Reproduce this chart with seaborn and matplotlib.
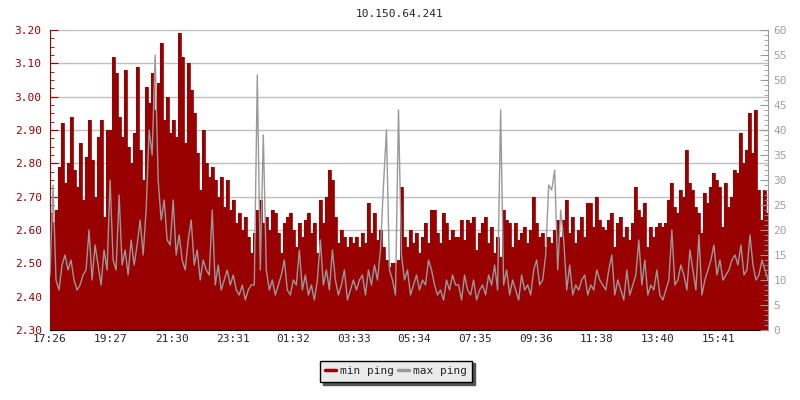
import numpy as np
import pandas as pd
import matplotlib
matplotlib.use("Agg")
import matplotlib.pyplot as plt
import seaborn as sns
from matplotlib.lines import Line2D
from matplotlib.ticker import MultipleLocator, FormatStrFormatter

title = "10.150.64.241"
tick_minutes = [0, 121, 244, 365, 486, 607, 728, 849, 970, 1092, 1214, 1335]
tick_labels = ["17:26", "19:27", "21:30", "23:31", "01:32", "03:33",
               "05:34", "07:35", "09:36", "11:38", "13:40", "15:41"]
sample_step = 6  # minutes between samples

# min ping (ms, left axis)
min_ping = [
    2.65, 2.62, 2.66, 2.79, 2.92, 2.74, 2.80, 2.94, 2.78, 2.73, 2.86, 2.69, 2.82, 2.93, 2.81, 2.70, 2.88,
    2.93, 2.64, 2.90, 2.90, 3.12, 3.07, 2.94, 2.88, 3.08, 2.85, 2.80, 2.89, 3.09, 2.84, 2.75, 3.03, 2.98,
    3.07, 2.96, 3.04, 3.16, 2.93, 3.00, 2.89, 2.93, 2.88, 3.19, 3.12, 2.86, 3.10, 3.02, 2.95, 2.83, 2.72,
    2.90, 2.80, 2.76, 2.79, 2.75, 2.70, 2.76, 2.67, 2.75, 2.66, 2.69, 2.62, 2.65, 2.60, 2.64, 2.58, 2.53,
    2.59, 2.66, 2.69, 2.62, 2.64, 2.60, 2.66, 2.65, 2.59, 2.53, 2.62, 2.64, 2.65, 2.60, 2.55, 2.62, 2.58,
    2.63, 2.65, 2.59, 2.62, 2.53, 2.69, 2.62, 2.70, 2.78, 2.75, 2.64, 2.56, 2.60, 2.58, 2.55, 2.58, 2.56,
    2.58, 2.55, 2.59, 2.56, 2.68, 2.59, 2.65, 2.57, 2.60, 2.55, 2.51, 2.49, 2.50, 2.50, 2.51, 2.73, 2.58,
    2.55, 2.60, 2.56, 2.59, 2.53, 2.58, 2.62, 2.56, 2.66, 2.66, 2.59, 2.56, 2.65, 2.62, 2.57, 2.60, 2.58,
    2.58, 2.63, 2.57, 2.63, 2.62, 2.64, 2.54, 2.59, 2.62, 2.64, 2.56, 2.61, 2.53, 2.58, 2.52, 2.66, 2.63,
    2.62, 2.55, 2.62, 2.57, 2.59, 2.61, 2.56, 2.60, 2.70, 2.62, 2.58, 2.59, 2.55, 2.58, 2.56, 2.60, 2.63,
    2.58, 2.63, 2.69, 2.59, 2.64, 2.56, 2.60, 2.64, 2.58, 2.68, 2.68, 2.61, 2.70, 2.63, 2.61, 2.60, 2.63,
    2.65, 2.55, 2.62, 2.64, 2.58, 2.61, 2.57, 2.62, 2.73, 2.66, 2.64, 2.68, 2.55, 2.61, 2.58, 2.61, 2.62,
    2.61, 2.62, 2.69, 2.74, 2.67, 2.65, 2.72, 2.70, 2.84, 2.74, 2.72, 2.67, 2.65, 2.59, 2.71, 2.68, 2.73,
    2.77, 2.75, 2.73, 2.61, 2.74, 2.67, 2.70, 2.78, 2.77, 2.89, 2.80, 2.84, 2.95, 2.83, 2.96, 2.72, 2.63,
    2.72, 2.65,
]

# max ping (ms, right axis)
max_ping = [
    11, 29, 10, 8, 13, 15, 12, 14, 10, 8, 9, 11, 12, 20, 10, 17, 13, 9, 16, 12, 30, 14, 12, 27, 13, 16,
    11, 18, 13, 17, 22, 15, 24, 40,
    35, 55, 30, 22, 26, 18, 17, 26, 15, 19, 14, 12, 18, 22, 13, 16, 10, 14, 12, 11, 24, 9, 13, 8, 10, 12,
    9, 11, 8, 7, 9, 6, 8, 9,
    9, 51, 12, 39, 12, 8, 10, 7, 9, 11, 14, 8, 7, 10, 9, 16, 8, 11, 7, 9, 6, 10, 18, 9, 12, 8, 16, 10,
    7, 9, 12, 6, 8, 10,
    8, 10, 11, 7, 12, 9, 13, 10, 16, 29, 40, 12, 10, 7, 44, 15, 10, 12, 7, 9, 11, 8, 10, 9, 14, 12, 9, 7,
    8, 6, 10, 8, 11, 9,
    9, 6, 11, 8, 7, 10, 6, 8, 9, 7, 11, 9, 13, 8, 44, 9, 12, 7, 10, 8, 6, 11, 8, 9, 7, 12, 14, 9, 10, 15,
    29, 28, 32, 12,
    24, 18, 8, 13, 7, 9, 8, 10, 11, 7, 9, 8, 12, 10, 9, 8, 12, 15, 7, 10, 8, 6, 12, 7, 9, 11, 18, 9, 14,
    7, 9, 8, 12, 7,
    6, 8, 10, 20, 9, 10, 13, 11, 8, 16, 12, 8, 19, 7, 10, 12, 14, 17, 11, 14, 10, 11, 12, 14, 15, 13, 17,
    11, 12, 19, 13, 10, 11, 14, 12, 10,
]

RED = "#990000"
GREY = "#999999"

sns.set_style("white")
plt.rcParams['font.family'] = ['DejaVu Sans Mono']

df = pd.DataFrame({
    "minute": np.arange(len(min_ping)) * sample_step,
    "min ping": min_ping,
    "max ping": max_ping,
})

fig = plt.figure(figsize=(8, 4), dpi=100)
ax = fig.add_axes([0.0625, 0.175, 0.8975, 0.75])

# min ping as a filled step area on the left axis
ax.fill_between(df["minute"], 2.30, df["min ping"], step="mid", color=RED, lw=0)
sns.lineplot(data=df, x="minute", y="min ping", ax=ax, color=RED, lw=0.6, drawstyle="steps-mid")
ax.set_ylim(2.30, 3.20)
ax.set_xlim(0, 1434)
ax.yaxis.set_major_locator(MultipleLocator(0.1))
ax.yaxis.set_minor_locator(MultipleLocator(0.025))
ax.yaxis.set_major_formatter(FormatStrFormatter("%.2f"))
ax.grid(axis="y", color="#c0c0c0", lw=1)
ax.set_axisbelow(True)
ax.set_xticks(tick_minutes)
ax.set_xticklabels(tick_labels)
ax.set_xlabel("")
ax.set_ylabel("")
ax.tick_params(axis="x", direction="in", length=4, color="black", labelsize=8, pad=3)
ax.tick_params(axis="y", which="both", direction="in", color=RED, labelcolor=RED, labelsize=8, pad=6)
ax.tick_params(axis="y", which="major", length=6)
ax.tick_params(axis="y", which="minor", length=3)
for s in ["top", "right"]:
    ax.spines[s].set_visible(False)
ax.spines["left"].set_color(RED)
ax.spines["bottom"].set_color("black")

# max ping as a line on the right axis
ax2 = ax.twinx()
sns.lineplot(data=df, x="minute", y="max ping", ax=ax2, color=GREY, lw=1)
ax2.set_ylim(0, 60)
ax2.set_ylabel("")
ax2.yaxis.set_major_locator(MultipleLocator(5))
ax2.yaxis.set_minor_locator(MultipleLocator(1))
ax2.tick_params(axis="y", which="both", direction="in", color=GREY, labelcolor="#a0a0a0", labelsize=8, pad=4)
ax2.tick_params(axis="y", which="major", length=6)
ax2.tick_params(axis="y", which="minor", length=3)
for s in ["top", "left", "bottom"]:
    ax2.spines[s].set_visible(False)
ax2.spines["right"].set_color(GREY)
ax2.grid(False)

fig.text(0.5, 0.965, title, ha="center", va="center", fontsize=8)

handles = [Line2D([0], [0], color=RED, lw=2.5), Line2D([0], [0], color=GREY, lw=2.5)]
fig.legend(handles, ["min ping", "max ping"], loc="center", bbox_to_anchor=(0.495, 0.072),
           ncol=2, fontsize=8, frameon=True, fancybox=False, shadow={"color": "#555555", "alpha": 1},
           edgecolor="black", facecolor="#eaeaea", framealpha=1, handlelength=1.0,
           handletextpad=0.3, columnspacing=0.4, borderpad=0.5)
fig.legends[0].get_frame().set_linewidth(1)

fig.savefig("out.png", dpi=100)
